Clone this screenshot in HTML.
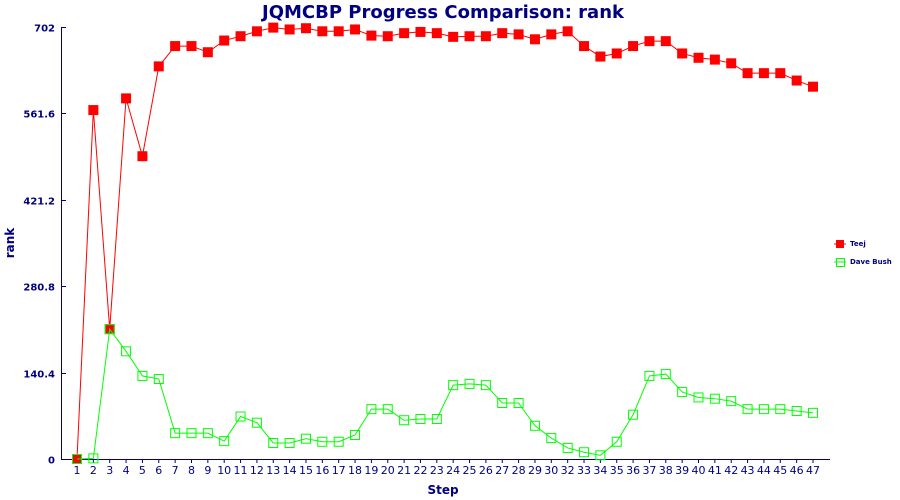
<!DOCTYPE html>
<html><head><meta charset="utf-8"><style>
body{margin:0;background:#fff;}
svg{display:block;font-family:"DejaVu Sans","Liberation Sans",sans-serif;}
</style></head><body>
<svg id="chart" width="900" height="500" viewBox="0 0 900 500">
<text x="443" y="18" text-anchor="middle" font-size="18" font-weight="bold" fill="#000080">JQMCBP Progress Comparison: rank</text>
<text x="14" y="243" text-anchor="middle" font-size="12" font-weight="bold" fill="#000080" transform="rotate(-90 14 243)">rank</text>
<text x="443" y="494" text-anchor="middle" font-size="12" font-weight="bold" fill="#000080">Step</text>
<g id="axes"></g>
<g id="series"></g>
<g>
<g><line x1="834" y1="244" x2="846" y2="244" stroke="#f00"/><rect x="836" y="240" width="8" height="8" fill="#f00"/><text x="850" y="246" font-size="7" font-weight="bold" fill="#000080">Teej</text></g>
<g><line x1="834" y1="262" x2="846" y2="262" stroke="#0f0"/><rect x="836.5" y="258.5" width="8" height="8" fill="none" stroke="#0f0"/><text x="850" y="264" font-size="7" font-weight="bold" fill="#000080">Dave Bush</text></g>
</g>
</svg>
<script>
const categories=["1","2","3","4","5","6","7","8","9","10","11","12","13","14","15","16","17","18","19","20","21","22","23","24","25","26","27","28","29","30","32","33","34","35","36","37","38","39","40","41","42","43","44","45","46","47"];
const teej=[0,567,211,586,492,638,671,671,661,680,687,695,701,698,700,695,695,698,688,687,692,694,692,686,687,687,692,690,682,690,695,671,654,659,671,679,679,659,652,649,643,627,627,627,615,605];
const daveBush=[0,1,211,175,135,130,42,42,42,29,69,59,26,26,33,28,28,39,81,81,63,65,65,120,122,120,91,91,54,34,18,11,6,28,72,135,138,109,100,98,94,81,81,81,78,75];
const yTicks=[0,140.4,280.8,421.2,561.6,702];
const yTickLabels=["0","140.4","280.8","421.2","561.6","702"];
const NS="http://www.w3.org/2000/svg";
const AX=61,X0=77,X1=813,Y0=459,Y1=27,YMAX=702;
function xs(i){return X0+i*(X1-X0)/(categories.length-1);}
function ys(v){return Y0-(v/YMAX)*(Y0-Y1);}
function mk(tag,attrs,parent){const e=document.createElementNS(NS,tag);for(const k in attrs)e.setAttribute(k,attrs[k]);parent.appendChild(e);return e;}
const axes=document.getElementById('axes');
let a=mk('line',{x1:AX+0.5,y1:Y1,x2:AX+0.5,y2:Y0+0.5,stroke:'#000080'},axes);


a=mk('line',{x1:AX,y1:Y0+0.5,x2:830,y2:Y0+0.5,stroke:'#000080'},axes);


yTicks.forEach((t,i)=>{
 const y=Math.round(ys(t))+0.5;
 let l=mk('line',{x1:AX,y1:y,x2:AX+5,y2:y,stroke:'#000080'},axes);
 
 
 let tx=mk('text',{x:55,y:y+4,'text-anchor':'end','font-size':10,'font-weight':'bold',fill:'#000080'},axes);
 tx.textContent=yTickLabels[i];
 
 
});
categories.forEach((c,i)=>{
 const x=xs(i);
 let l=mk('line',{x1:x,y1:Y0,x2:x,y2:Y0+4,stroke:'#000080'},axes);
 
 
 let tx=mk('text',{x:x,y:Y0+15,'text-anchor':'middle','font-size':11,fill:'#000080'},axes);
 tx.textContent=c;
 
 
});
const ser=document.getElementById('series');
function draw(vals,color,filled,name){
 const g=mk('g',{},ser);
 
 
 const pl=mk('polyline',{points:vals.map((v,i)=>xs(i)+','+ys(v)).join(' '),fill:'none',stroke:color,'stroke-width':1},g);
 
 
 vals.forEach((v,i)=>{
  const r=filled?mk('rect',{x:xs(i)-5,y:ys(v)-5,width:10,height:10,fill:color},g):mk('rect',{x:xs(i)-4.5,y:ys(v)-4.5,width:9,height:9,fill:'none',stroke:color,'stroke-width':1},g);
  
  
 });
}
draw(teej,'#ff0000',true,'teej');
draw(daveBush,'#00ff00',false,'dave-bush');
</script>
</body></html>
